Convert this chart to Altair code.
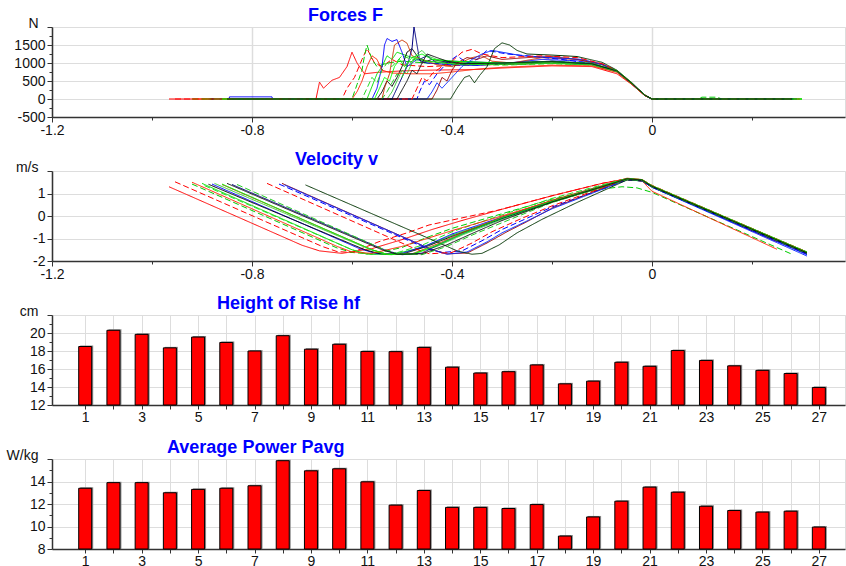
import altair as alt
import pandas as pd

FONT = "Liberation Sans"

# ---------------- trial styles ----------------
trial_ids = ["T01", "T02", "T03", "T04", "T05", "T06", "T07", "T08", "T09", "T10",
             "T11", "T12", "T13", "T14", "T15", "T16", "T17", "T18", "T19"]
trial_colors = ["#ff0000", "#ff0000", "#00cc00", "#00e000", "#0000ff", "#000000", "#cc3300",
                "#33cc33", "#0000ff", "#000080", "#22dd22", "#ff2200", "#990000", "#0022ff",
                "#003300", "#ff0000", "#00ff00", "#22cc22", "#111111"]
trial_dashed = [False, True, True, False, False, False, False, False, True, False,
                True, False, False, False, False, True, False, True, False]

# ---------------- force curves (t [s], F [N]) ----------------
force_01 = [(-0.966, 0), (-0.672, 0), (-0.665, 470), (-0.657, 300), (-0.64, 520), (-0.625, 600), (-0.61, 900),
            (-0.60, 1300), (-0.59, 1000), (-0.575, 700), (-0.55, 740), (-0.50, 780), (-0.45, 800), (-0.40, 810),
            (-0.35, 820), (-0.30, 860), (-0.20, 920), (-0.12, 900), (-0.07, 700), (-0.04, 400), (-0.015, 100),
            (0.0, 0), (0.25, 0)]
force_02 = [(-0.954, 0), (-0.62, 0), (-0.61, 300), (-0.595, 600), (-0.58, 1100), (-0.57, 1400), (-0.555, 1000),
            (-0.54, 900), (-0.52, 1100), (-0.50, 950), (-0.45, 900), (-0.40, 930), (-0.30, 960), (-0.20, 1000),
            (-0.12, 950), (-0.07, 760), (-0.04, 420), (-0.015, 120), (0.0, 0), (0.26, 0)]
force_03 = [(-0.92, 0), (-0.60, 0), (-0.59, 400), (-0.58, 800), (-0.575, 1200), (-0.57, 1500), (-0.56, 1100),
            (-0.55, 900), (-0.53, 1000), (-0.50, 1050), (-0.45, 1000), (-0.40, 950), (-0.30, 980), (-0.20, 1050),
            (-0.12, 980), (-0.07, 780), (-0.04, 430), (-0.015, 110), (0.0, 0), (0.09, 0), (0.10, 50),
            (0.13, 50), (0.14, 0), (0.28, 0)]
force_04 = [(-0.90, 0), (-0.57, 0), (-0.56, 350), (-0.55, 700), (-0.54, 900), (-0.53, 1200), (-0.52, 1100),
            (-0.51, 1300), (-0.50, 1250), (-0.48, 1150), (-0.45, 1050), (-0.40, 1000), (-0.30, 1000),
            (-0.20, 1030), (-0.12, 960), (-0.07, 760), (-0.04, 420), (-0.015, 110), (0.0, 0), (0.29, 0)]
force_05 = [(-0.88, 0), (-0.846, 0), (-0.845, 60), (-0.76, 60), (-0.759, 0), (-0.56, 0), (-0.55, 300),
            (-0.54, 900), (-0.535, 1500), (-0.53, 1680), (-0.52, 1600), (-0.51, 1650), (-0.50, 1300),
            (-0.49, 900), (-0.47, 1100), (-0.45, 1000), (-0.40, 950), (-0.35, 930), (-0.30, 980),
            (-0.22, 1100), (-0.15, 1060), (-0.10, 960), (-0.07, 760), (-0.04, 420), (-0.015, 110),
            (0.0, 0), (0.29, 0)]
force_06 = [(-0.887, 0), (-0.55, 0), (-0.54, 200), (-0.53, 500), (-0.52, 350), (-0.51, 600), (-0.50, 900),
            (-0.49, 1300), (-0.48, 1400), (-0.47, 1200), (-0.46, 1000), (-0.44, 1100), (-0.40, 1000),
            (-0.30, 960), (-0.20, 1000), (-0.12, 960), (-0.07, 770), (-0.04, 430), (-0.015, 110),
            (0.0, 0), (0.28, 0)]
force_07 = [(-0.86, 0), (-0.54, 0), (-0.535, 300), (-0.525, 700), (-0.52, 1100), (-0.515, 1500), (-0.50, 1640),
            (-0.49, 1550), (-0.48, 1200), (-0.46, 1100), (-0.43, 950), (-0.40, 900), (-0.36, 1150),
            (-0.34, 1200), (-0.32, 1050), (-0.28, 1000), (-0.22, 1150), (-0.15, 1100), (-0.10, 950),
            (-0.07, 750), (-0.04, 400), (-0.015, 100), (0.0, 0), (0.30, 0)]
force_08 = [(-0.875, 0), (-0.53, 0), (-0.52, 200), (-0.51, 500), (-0.50, 800), (-0.49, 700), (-0.48, 1000),
            (-0.47, 1250), (-0.46, 1350), (-0.45, 1200), (-0.43, 1100), (-0.40, 1050), (-0.30, 980),
            (-0.20, 1000), (-0.12, 960), (-0.07, 780), (-0.04, 440), (-0.015, 110), (0.0, 0), (0.30, 0)]
force_09 = [(-0.746, 0), (-0.47, 0), (-0.465, 200), (-0.455, 500), (-0.445, 400), (-0.43, 700), (-0.41, 1000),
            (-0.39, 1200), (-0.37, 1000), (-0.35, 1100), (-0.33, 1350), (-0.31, 1300), (-0.29, 1250),
            (-0.25, 1200), (-0.18, 1100), (-0.12, 980), (-0.07, 770), (-0.04, 430), (-0.015, 110),
            (0.0, 0), (0.29, 0)]
force_10 = [(-0.84, 0), (-0.52, 0), (-0.51, 300), (-0.50, 600), (-0.49, 900), (-0.48, 1400), (-0.476, 2000),
            (-0.47, 1500), (-0.465, 1100), (-0.45, 1200), (-0.43, 1000), (-0.40, 1050), (-0.30, 1000),
            (-0.20, 1050), (-0.12, 980), (-0.07, 770), (-0.04, 430), (-0.015, 110), (0.0, 0), (0.28, 0)]
force_11 = [(-0.895, 0), (-0.58, 0), (-0.57, 300), (-0.56, 600), (-0.55, 450), (-0.54, 800), (-0.53, 1000),
            (-0.52, 900), (-0.50, 1200), (-0.48, 1100), (-0.45, 1050), (-0.40, 980), (-0.30, 940),
            (-0.20, 980), (-0.12, 940), (-0.07, 750), (-0.04, 420), (-0.015, 110), (0.0, 0), (0.30, 0)]
force_12 = [(-0.92, 0), (-0.60, 0), (-0.59, 200), (-0.58, 500), (-0.57, 900), (-0.56, 1200), (-0.55, 1100),
            (-0.54, 800), (-0.52, 720), (-0.48, 700), (-0.44, 700), (-0.40, 750), (-0.35, 830), (-0.30, 880),
            (-0.20, 940), (-0.12, 920), (-0.07, 740), (-0.04, 410), (-0.015, 100), (0.0, 0), (0.27, 0)]
force_13 = [(-0.74, 0), (-0.44, 0), (-0.43, 250), (-0.42, 600), (-0.41, 500), (-0.40, 800), (-0.39, 1000),
            (-0.37, 1150), (-0.35, 1100), (-0.33, 1200), (-0.30, 1100), (-0.25, 1150), (-0.20, 1180),
            (-0.15, 1100), (-0.10, 980), (-0.07, 780), (-0.04, 430), (-0.015, 110), (0.0, 0), (0.29, 0)]
force_14 = [(-0.735, 0), (-0.45, 0), (-0.44, 200), (-0.43, 450), (-0.42, 300), (-0.40, 600), (-0.38, 900),
            (-0.36, 1100), (-0.34, 1250), (-0.32, 1350), (-0.30, 1300), (-0.26, 1200), (-0.20, 1150),
            (-0.14, 1100), (-0.10, 960), (-0.07, 770), (-0.04, 430), (-0.015, 110), (0.0, 0), (0.29, 0)]
force_15 = [(-0.693, 0), (-0.403, 0), (-0.39, 300), (-0.375, 600), (-0.365, 650), (-0.355, 450), (-0.345, 650),
            (-0.33, 900), (-0.315, 1400), (-0.30, 1560), (-0.285, 1500), (-0.27, 1350), (-0.25, 1250),
            (-0.20, 1220), (-0.15, 1180), (-0.10, 1020), (-0.07, 800), (-0.04, 450), (-0.015, 120),
            (0.0, 0), (0.29, 0)]
force_16 = [(-0.77, 0), (-0.48, 0), (-0.47, 300), (-0.46, 600), (-0.45, 500), (-0.44, 700), (-0.42, 900),
            (-0.40, 1050), (-0.38, 1300), (-0.36, 1380), (-0.34, 1250), (-0.30, 1150), (-0.22, 1200),
            (-0.15, 1150), (-0.10, 980), (-0.07, 780), (-0.04, 430), (-0.015, 110), (0.0, 0), (0.30, 0)]
force_17 = [(-0.86, 0), (-0.555, 0), (-0.545, 300), (-0.535, 600), (-0.525, 500), (-0.515, 900), (-0.505, 1100),
            (-0.495, 900), (-0.48, 1150), (-0.46, 1250), (-0.44, 1100), (-0.40, 1050), (-0.30, 1000),
            (-0.20, 1040), (-0.12, 990), (-0.07, 790), (-0.04, 440), (-0.015, 110), (0.0, 0), (0.30, 0)]
force_18 = [(-0.83, 0), (-0.54, 0), (-0.53, 200), (-0.52, 450), (-0.51, 700), (-0.50, 600), (-0.49, 950),
            (-0.47, 1150), (-0.45, 1050), (-0.42, 1000), (-0.38, 950), (-0.30, 960), (-0.20, 990),
            (-0.12, 950), (-0.07, 760), (-0.04, 420), (-0.015, 110), (0.0, 0), (0.29, 0)]
force_19 = [(-0.85, 0), (-0.51, 0), (-0.50, 250), (-0.49, 500), (-0.48, 800), (-0.47, 700), (-0.46, 1000),
            (-0.45, 1250), (-0.43, 1150), (-0.41, 1050), (-0.38, 980), (-0.30, 1000), (-0.20, 1040),
            (-0.12, 980), (-0.07, 780), (-0.04, 430), (-0.015, 110), (0.0, 0), (0.28, 0)]

# ---------------- velocity curves (t [s], v [m/s]) ----------------
vel_01 = [(-0.966, 1.30), (-0.70, -1.30), (-0.665, -1.55), (-0.62, -1.66), (-0.56, -1.45), (-0.50, -1.05),
          (-0.44, -0.60), (-0.38, -0.20), (-0.30, 0.30), (-0.20, 0.90), (-0.10, 1.45), (-0.05, 1.65),
          (-0.02, 1.55), (0.0, 1.30), (0.25, -1.15)]
vel_02 = [(-0.954, 1.52), (-0.66, -1.35), (-0.63, -1.58), (-0.60, -1.62), (-0.546, -1.14), (-0.49, -0.75),
          (-0.446, -0.40), (-0.306, 0.27), (-0.20, 0.90), (-0.10, 1.45), (-0.05, 1.66), (-0.02, 1.58),
          (0.0, 1.32), (0.30, -1.55)]
vel_03 = [(-0.92, 1.42), (-0.63, -1.42), (-0.60, -1.62), (-0.56, -1.70), (-0.50, -1.40), (-0.45, -0.95),
          (-0.40, -0.55), (-0.30, 0.10), (-0.20, 0.75), (-0.10, 1.20), (-0.06, 1.30), (-0.03, 1.25),
          (0.0, 1.05), (0.28, -1.70)]
vel_04 = [(-0.90, 1.45), (-0.60, -1.50), (-0.57, -1.68), (-0.52, -1.72), (-0.46, -1.40), (-0.40, -0.85),
          (-0.30, -0.10), (-0.20, 0.65), (-0.10, 1.30), (-0.05, 1.62), (-0.02, 1.55), (0.0, 1.32), (0.31, -1.62)]
vel_05 = [(-0.88, 1.42), (-0.585, -1.45), (-0.55, -1.68), (-0.50, -1.66), (-0.45, -1.30), (-0.40, -0.80),
          (-0.30, -0.05), (-0.20, 0.68), (-0.10, 1.32), (-0.05, 1.65), (-0.02, 1.58), (0.0, 1.30), (0.31, -1.72)]
vel_06 = [(-0.887, 1.41), (-0.573, -1.51), (-0.54, -1.70), (-0.50, -1.70), (-0.45, -1.35), (-0.40, -0.90),
          (-0.30, -0.12), (-0.20, 0.62), (-0.10, 1.28), (-0.05, 1.62), (-0.02, 1.56), (0.0, 1.28), (0.31, -1.68)]
vel_07 = [(-0.86, 1.40), (-0.56, -1.50), (-0.53, -1.70), (-0.48, -1.68), (-0.43, -1.25), (-0.38, -0.75),
          (-0.30, -0.05), (-0.20, 0.70), (-0.10, 1.35), (-0.05, 1.68), (-0.02, 1.62), (0.0, 1.35), (0.31, -1.62)]
vel_08 = [(-0.875, 1.45), (-0.565, -1.48), (-0.53, -1.70), (-0.48, -1.70), (-0.43, -1.35), (-0.38, -0.85),
          (-0.30, -0.15), (-0.20, 0.60), (-0.10, 1.28), (-0.05, 1.64), (-0.02, 1.58), (0.0, 1.30), (0.31, -1.65)]
vel_09 = [(-0.746, 1.42), (-0.45, -1.45), (-0.42, -1.62), (-0.38, -1.55), (-0.34, -1.10), (-0.30, -0.60),
          (-0.25, -0.10), (-0.20, 0.40), (-0.10, 1.20), (-0.05, 1.60), (-0.02, 1.56), (0.0, 1.28), (0.31, -1.70)]
vel_10 = [(-0.84, 1.40), (-0.53, -1.55), (-0.50, -1.72), (-0.46, -1.65), (-0.42, -1.20), (-0.38, -0.80),
          (-0.30, -0.10), (-0.20, 0.66), (-0.10, 1.32), (-0.05, 1.66), (-0.02, 1.60), (0.0, 1.32), (0.31, -1.66)]
vel_11 = [(-0.895, 1.35), (-0.60, -1.50), (-0.57, -1.70), (-0.52, -1.70), (-0.46, -1.30), (-0.40, -0.70),
          (-0.30, 0.05), (-0.20, 0.78), (-0.10, 1.38), (-0.05, 1.66), (-0.02, 1.60), (0.0, 1.33), (0.31, -1.62)]
vel_12 = [(-0.92, 1.50), (-0.63, -1.35), (-0.60, -1.60), (-0.56, -1.66), (-0.50, -1.35), (-0.45, -1.00),
          (-0.40, -0.65), (-0.30, 0.00), (-0.20, 0.68), (-0.10, 1.30), (-0.05, 1.62), (-0.02, 1.56),
          (0.0, 1.10), (0.25, -1.48)]
vel_13 = [(-0.74, 1.45), (-0.44, -1.50), (-0.41, -1.68), (-0.37, -1.65), (-0.33, -1.20), (-0.29, -0.70),
          (-0.25, -0.25), (-0.20, 0.35), (-0.10, 1.22), (-0.05, 1.64), (-0.02, 1.60), (0.0, 1.33), (0.31, -1.60)]
vel_14 = [(-0.735, 1.38), (-0.44, -1.50), (-0.41, -1.70), (-0.37, -1.60), (-0.33, -1.15), (-0.30, -0.75),
          (-0.25, -0.22), (-0.20, 0.32), (-0.10, 1.18), (-0.05, 1.62), (-0.02, 1.56), (0.0, 1.28), (0.31, -1.78)]
vel_15 = [(-0.693, 1.38), (-0.42, -1.25), (-0.39, -1.55), (-0.36, -1.70), (-0.34, -1.66), (-0.306, -1.29),
          (-0.27, -0.75), (-0.22, -0.15), (-0.15, 0.60), (-0.10, 1.10), (-0.05, 1.60), (-0.02, 1.58),
          (0.0, 1.30), (0.31, -1.64)]
vel_16 = [(-0.77, 1.45), (-0.475, -1.45), (-0.445, -1.68), (-0.40, -1.62), (-0.36, -1.20), (-0.32, -0.70),
          (-0.26, -0.10), (-0.20, 0.45), (-0.10, 1.25), (-0.05, 1.66), (-0.02, 1.62), (0.0, 1.36), (0.31, -1.60)]
vel_17 = [(-0.86, 1.42), (-0.56, -1.50), (-0.53, -1.70), (-0.48, -1.70), (-0.43, -1.30), (-0.38, -0.80),
          (-0.30, -0.08), (-0.20, 0.66), (-0.10, 1.32), (-0.05, 1.66), (-0.02, 1.62), (0.0, 1.35), (0.31, -1.60)]
vel_18 = [(-0.83, 1.40), (-0.54, -1.45), (-0.51, -1.66), (-0.46, -1.72), (-0.41, -1.35), (-0.36, -0.85),
          (-0.30, -0.30), (-0.20, 0.60), (-0.10, 1.28), (-0.05, 1.62), (-0.02, 1.58), (0.0, 1.30), (0.31, -1.66)]
vel_19 = [(-0.85, 1.45), (-0.54, -1.50), (-0.51, -1.70), (-0.46, -1.68), (-0.41, -1.28), (-0.36, -0.78),
          (-0.30, -0.20), (-0.20, 0.62), (-0.10, 1.30), (-0.05, 1.65), (-0.02, 1.60), (0.0, 1.32), (0.31, -1.64)]

# ---------------- per-trial bars ----------------
trial_numbers = list(range(1, 28))
height_hf_cm = [18.5, 20.3, 19.85, 18.35, 19.55, 18.95, 18.0, 19.7, 18.2, 18.75, 17.95, 17.93, 18.4,
                16.2, 15.55, 15.7, 16.45, 14.35, 14.65, 16.75, 16.3, 18.05, 16.95, 16.35, 15.85, 15.5, 13.95]
power_pavg_wkg = [13.4, 13.9, 13.9, 13.0, 13.3, 13.4, 13.62, 15.85, 14.95, 15.13, 13.97, 11.9, 13.2,
                  11.7, 11.7, 11.6, 11.95, 9.15, 10.85, 12.25, 13.5, 13.05, 11.8, 11.42, 11.28, 11.36, 9.95]

force_curves = [force_01, force_02, force_03, force_04, force_05, force_06, force_07, force_08, force_09,
                force_10, force_11, force_12, force_13, force_14, force_15, force_16, force_17, force_18,
                force_19]
vel_curves = [vel_01, vel_02, vel_03, vel_04, vel_05, vel_06, vel_07, vel_08, vel_09, vel_10, vel_11,
              vel_12, vel_13, vel_14, vel_15, vel_16, vel_17, vel_18, vel_19]


def curves_frame(curves):
    rows = []
    for tid, pts in zip(trial_ids, curves):
        for k, (t, val) in enumerate(pts):
            rows.append({"trial": tid, "t": t, "val": val, "k": k})
    return pd.DataFrame(rows)


force_df = curves_frame(force_curves)
vel_df = curves_frame(vel_curves)
hf_df = pd.DataFrame({"n": trial_numbers, "val": height_hf_cm, "base": 12})
pw_df = pd.DataFrame({"n": trial_numbers, "val": power_pavg_wkg, "base": 8})

W = 793
H = 90
GRID = "#dddddd"
AX = "#333333"
LBL = "#111111"
LFS = 14
dash_range = [[6, 3] if d else [1, 0] for d in trial_dashed]


def cond(test, a, b):
    return {"condition": {"test": test, "value": a}, "value": b}


def y_axis(lo, hi, step, major, unit):
    vals = []
    v = lo
    while v <= hi + 1e-9:
        vals.append(round(v, 6))
        v += step
    major_test = f"abs(datum.value/{major} - round(datum.value/{major})) < 0.001"
    top_test = f"abs(datum.value - {hi}) < 0.001"
    return alt.Axis(
        values=vals, format="d", title=None,
        labelExpr=f"({top_test}) ? '{unit}' : (({major_test}) ? replace(datum.label, '\u2212', '-') : '')",
        labelFont=FONT, labelFontSize=LFS, labelColor=LBL,
        labelBaseline=cond(top_test, "alphabetic", "middle"),
        labelPadding=cond(top_test, 9, 2),
        labelFlush=False, labelOverlap=False,
        grid=True, gridColor=GRID, gridWidth=1,
        gridOpacity=cond(major_test, 1, 0),
        ticks=True, tickColor=AX, tickSize=cond(major_test, 5, 3),
        domain=True, domainColor=AX, domainWidth=1.5,
    )


def x_time_axis():
    vals = [-1.2, -1.0, -0.8, -0.6, -0.4, -0.2, 0.0, 0.2]
    major_test = "abs(datum.value*2.5 - round(datum.value*2.5)) < 0.001"
    return alt.Axis(
        values=vals, title=None, format=".1~f",
        labelExpr=f"({major_test}) ? replace(datum.label, '\u2212', '-') : ''",
        labelFont=FONT, labelFontSize=LFS, labelColor=LBL, labelPadding=1,
        labelFlush=False, labelOverlap=False,
        grid=True, gridColor=GRID, gridWidth=1.5, gridOpacity=cond(major_test, 1, 0),
        ticks=True, tickColor=AX, tickSize=cond(major_test, 5, 3),
        domain=True, domainColor=AX, domainWidth=1.5,
    )


def x_bar_axis():
    return alt.Axis(
        values=trial_numbers, title=None, format="d",
        labelExpr="datum.value % 2 == 1 ? datum.label : ''",
        labelFont=FONT, labelFontSize=LFS, labelColor=LBL, labelPadding=1,
        labelFlush=False, labelOverlap=False,
        grid=True, gridColor=GRID, gridWidth=1,
        ticks=True, tickColor=AX, tickSize=4,
        domain=True, domainColor=AX, domainWidth=1.5,
    )


def panel_title(text, dx):
    return alt.TitleParams(text=text, font=FONT, fontSize=18, fontWeight="bold", color="#0000ff",
                           anchor="start", frame="group", dx=dx, dy=29, offset=6, baseline="alphabetic")


def line_panel(df, lo, hi, step, major, unit, title, dx):
    return alt.Chart(df).mark_line(strokeWidth=1, clip=True).encode(
        x=alt.X("t:Q", scale=alt.Scale(domain=[-1.2, 0.386], nice=False, zero=False), axis=x_time_axis()),
        y=alt.Y("val:Q", scale=alt.Scale(domain=[lo, hi], nice=False, zero=False),
                axis=y_axis(lo, hi, step, major, unit)),
        color=alt.Color("trial:N", scale=alt.Scale(domain=trial_ids, range=trial_colors), legend=None),
        strokeDash=alt.StrokeDash("trial:N", scale=alt.Scale(domain=trial_ids, range=dash_range), legend=None),
        order=alt.Order("k:Q"),
    ).properties(width=W, height=H, title=panel_title(title, dx))


def bar_panel(df, lo, hi, unit, title, dx):
    xs = alt.X("n:Q", scale=alt.Scale(domain=[0, 27.75], nice=False, zero=False), axis=x_bar_axis())
    ys = alt.Y("val:Q", scale=alt.Scale(domain=[lo, hi], nice=False, zero=False),
               axis=y_axis(lo, hi, 1, 2, unit))
    shadow = alt.Chart(df).mark_bar(size=13, color="#8a8a8a", xOffset=1.5, yOffset=-1).encode(
        x=xs, y=ys, y2="base:Q")
    bars = alt.Chart(df).mark_bar(size=13, color="#ff0000", stroke="#000000", strokeWidth=1).encode(
        x=xs, y=ys, y2="base:Q")
    return alt.layer(shadow, bars).properties(width=W, height=H, title=panel_title(title, dx))


p1 = line_panel(force_df, -500, 2000, 250, 500, "N", "Forces F", 256)
p2 = line_panel(vel_df, -2, 2, 0.5, 1, "m/s", "Velocity v", 243)
p3 = bar_panel(hf_df, 12, 22, "cm", "Height of Rise hf", 165)
p4 = bar_panel(pw_df, 8, 16, "W/kg", "Average Power Pavg", 115)

chart = alt.vconcat(p1, p2, p3, p4, spacing=54, bounds="flush").properties(
    padding={"left": 5, "top": 6, "right": 0, "bottom": 0}
).configure_view(strokeWidth=0).configure(background="white")

chart.save("out.html", embed_options={"renderer": "svg", "actions": False})
